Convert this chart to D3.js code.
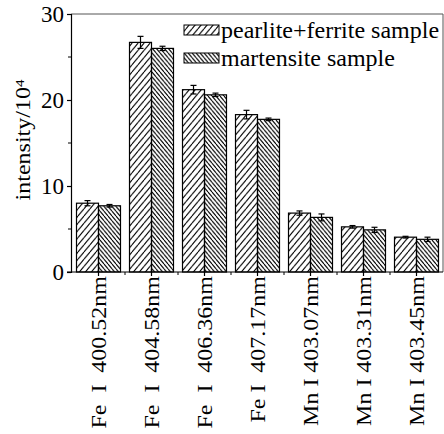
<!DOCTYPE html>
<html><head><meta charset="utf-8">
<script src="https://cdn.jsdelivr.net/npm/d3@7"></script>
<style>body{margin:0;background:#fff}svg{display:block}</style>
</head><body>
<svg id="c" width="444" height="434"></svg>
<script>
const categories = ["Fe  I  400.52nm","Fe  I  404.58nm","Fe  I  406.36nm","Fe I  407.17nm","Mn I 403.07nm","Mn I 403.31nm","Mn I 403.45nm"];
const seriesNames = ["pearlite+ferrite sample","martensite sample"];
const pearlite = [8.0, 26.7, 21.2, 18.3, 6.85, 5.25, 4.05];
const pearliteErr = [0.3, 0.7, 0.5, 0.5, 0.25, 0.15, 0.1];
const martensite = [7.7, 26.0, 20.6, 17.75, 6.35, 4.9, 3.8];
const martensiteErr = [0.15, 0.25, 0.2, 0.15, 0.4, 0.3, 0.25];
const yTicks = [0, 10, 20, 30];
const yMinorTicks = [5, 15, 25];

const FONT = '"Liberation Serif", "Times New Roman", Times, serif';
const svg = d3.select("#c");
const L = 71, R = 443, T = 14, B = 272;
const SQ = 0.86;
const x = d3.scaleBand().domain(categories).range([L + 1, R]).paddingInner(0.17).paddingOuter(0.085);
const xs = d3.scaleBand().domain([0, 1]).range([0, x.bandwidth()]);
const y = d3.scaleLinear().domain([0, 30]).range([B, T]);

const defs = svg.append("defs");
function hatch(id, w, dir) {
  const h = w * 1.2;
  const p = defs.append("pattern").attr("id", id).attr("patternUnits", "userSpaceOnUse")
    .attr("width", w).attr("height", h);
  const d = dir > 0
    ? `M0,${h} L${w},0 M${-w},${h} L0,0 M${w},${h} L${2*w},0`
    : `M0,0 L${w},${h} M${-w},0 L0,${h} M${w},0 L${2*w},${h}`;
  p.append("path").attr("d", d).attr("stroke", "#000").attr("stroke-width", 1.1).attr("fill", "none");
}
hatch("hp", 6, 1);
hatch("hm", 4, -1);
const fills = ["url(#hp)", "url(#hm)"];

// frame
svg.append("path").attr("d", `M${L},${T} H${R} V${B}`).attr("fill", "none").attr("stroke", "#555").attr("stroke-width", 1);

const series = [
  {vals: pearlite, err: pearliteErr},
  {vals: martensite, err: martensiteErr}
];
series.forEach((s, si) => {
  const g = svg.append("g");
  g.selectAll("rect").data(categories).join("rect")
    .attr("x", c => x(c) + xs(si))
    .attr("y", (c, i) => y(s.vals[i]))
    .attr("width", xs.bandwidth())
    .attr("height", (c, i) => B - y(s.vals[i]))
    .attr("fill", fills[si]).attr("stroke", "#000").attr("stroke-width", 1.2);
  const eg = svg.append("g").attr("stroke", "#000").attr("stroke-width", 1.2);
  categories.forEach((c, i) => {
    const cx = x(c) + xs(si) + xs.bandwidth() / 2;
    const y1 = y(s.vals[i] + s.err[i]), y0 = y(s.vals[i] - s.err[i]);
    eg.append("line").attr("x1", cx).attr("x2", cx).attr("y1", y1).attr("y2", y0);
    eg.append("line").attr("x1", cx - 3).attr("x2", cx + 3).attr("y1", y1).attr("y2", y1);
    eg.append("line").attr("x1", cx - 3).attr("x2", cx + 3).attr("y1", y0).attr("y2", y0);
  });
});

// y axis
const ya = svg.append("g").attr("transform", `translate(${L},0)`)
  .call(d3.axisLeft(y).tickValues(yTicks).tickSize(4).tickFormat(d3.format("d")));
ya.attr("font-family", null).attr("font-size", null);
ya.select(".domain").attr("stroke", "#000").attr("stroke-width", 1.2);
ya.selectAll(".tick line").attr("stroke", "#000").attr("stroke-width", 1.2);
ya.selectAll(".tick text").remove();
ya.selectAll(".tick").append("text")
  .attr("text-anchor", "end")
  .attr("x", -7)
  .attr("dy", "0.34em")
  .attr("fill", "#000")
  .style("font-family", FONT)
  .style("font-size", "23px")
  .text(d => d);
ya.selectAll(".minor").data(yMinorTicks).join("line").attr("class", "minor")
  .attr("x1", -3).attr("x2", 0).attr("y1", d => y(d)).attr("y2", d => y(d))
  .attr("stroke", "#000").attr("stroke-width", 1);

// x axis
const xa = svg.append("g").attr("transform", `translate(0,${B})`);
xa.append("line").attr("x1", L - 4).attr("x2", R).attr("y1", 0).attr("y2", 0).attr("stroke", "#000").attr("stroke-width", 1.2);
xa.selectAll(".mt").data(categories).join("line").attr("class", "mt")
  .attr("x1", c => x(c) + x.bandwidth() / 2).attr("x2", c => x(c) + x.bandwidth() / 2)
  .attr("y1", -3).attr("y2", 4).attr("stroke", "#000").attr("stroke-width", 1.2);
xa.selectAll(".nt").data(categories.slice(1)).join("line").attr("class", "nt")
  .attr("x1", c => x(c) - x.step() * x.paddingInner() / 2).attr("x2", c => x(c) - x.step() * x.paddingInner() / 2)
  .attr("y1", 0).attr("y2", 3).attr("stroke", "#000").attr("stroke-width", 1);
xa.selectAll(".xl").data(categories).join("text").attr("class", "xl")
  .attr("transform", c => `translate(${x(c) + x.bandwidth() / 2},4) rotate(-90) scale(1,${SQ})`)
  .attr("text-anchor", "end").attr("dy", "0.35em").attr("fill", "#000")
  .style("font-family", FONT)
  .style("font-size", "24px").style("white-space", "pre")
  .text(c => c);

// y label
const yl = svg.append("text")
  .attr("transform", `translate(23,140) rotate(-90) scale(1,${SQ})`)
  .attr("text-anchor", "middle").attr("dy", "0.35em").attr("fill", "#000")
  .style("font-family", FONT)
  .style("font-size", "24px");
yl.append("tspan").text("intensity/10");
yl.append("tspan").attr("dy", "-0.5em").style("font-size", "15px").text("4");

// legend
const lg = svg.append("g");
seriesNames.forEach((n, i) => {
  const yy = 25 + i * 28;
  lg.append("rect").attr("x", 184).attr("y", yy).attr("width", 35).attr("height", 10)
    .attr("fill", fills[i]).attr("stroke", "#000").attr("stroke-width", 1);
  lg.append("text").attr("x", 221).attr("y", yy + 5)
    .attr("dy", "0.32em").attr("fill", "#000")
    .style("font-family", FONT)
    .style("font-size", "24px").text(n);
});
</script>
</body></html>
